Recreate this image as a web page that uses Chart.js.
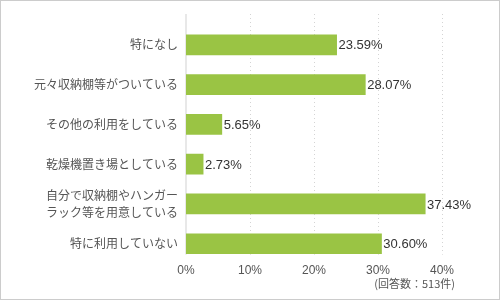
<!DOCTYPE html>
<html>
<head>
<meta charset="utf-8">
<script src="https://cdn.jsdelivr.net/npm/chart.js@4"></script>
<style>
html,body{margin:0;padding:0;background:#fff;}
#wrap{width:500px;height:300px;position:relative;}
</style>
</head>
<body>
<div id="wrap"><canvas id="c" width="500" height="300"></canvas></div>
<script>
const categories = [
  "特になし",
  "元々収納棚等がついている",
  "その他の利用をしている",
  "乾燥機置き場としている",
  ["自分で収納棚やハンガー", "ラック等を用意している"],
  "特に利用していない"
];
const values = [23.59, 28.07, 5.65, 2.73, 37.43, 30.60];
const valueLabels = ["23.59%", "28.07%", "5.65%", "2.73%", "37.43%", "30.60%"];
const xTicks = [0, 10, 20, 30, 40];
const noteText = "(回答数：513件)";

const JP = '"Noto Sans CJK JP", "Noto Sans", sans-serif';
const LAT = '"Liberation Sans", Arial, sans-serif';

const decorPlugin = {
  id: 'decor',
  beforeDatasetsDraw(chart) {
    const ctx = chart.ctx;
    const xs = chart.scales.x;
    const a = chart.chartArea;
    const top = a.top - 11, bottom = a.bottom - 9;
    ctx.save();
    xTicks.forEach(v => {
      const x = Math.round(xs.getPixelForValue(v));
      if (v === 0) {
        ctx.strokeStyle = '#e8e8e8';
        ctx.lineWidth = 2;
        ctx.setLineDash([]);
        ctx.beginPath(); ctx.moveTo(x, top); ctx.lineTo(x, bottom); ctx.stroke();
      } else {
        ctx.strokeStyle = '#d4d4d4';
        ctx.lineWidth = 1;
        ctx.setLineDash([1, 3]);
        ctx.beginPath(); ctx.moveTo(x + 0.5, top); ctx.lineTo(x + 0.5, bottom); ctx.stroke();
      }
    });
    ctx.restore();
  },
  afterDatasetsDraw(chart) {
    const ctx = chart.ctx;
    const meta = chart.getDatasetMeta(0);
    ctx.save();
    ctx.font = '13px ' + LAT;
    ctx.fillStyle = '#333';
    ctx.textAlign = 'left';
    ctx.textBaseline = 'middle';
    meta.data.forEach((bar, i) => {
      ctx.fillText(valueLabels[i], bar.x + 1.5, bar.y + 1);
    });
    // note
    ctx.font = '11px ' + JP;
    ctx.fillStyle = '#555';
    ctx.textAlign = 'right';
    ctx.fillText(noteText, 455, 284);
    // outer border
    ctx.strokeStyle = '#cccccc';
    ctx.lineWidth = 1;
    ctx.strokeRect(0.5, 0.5, 499, 299);
    ctx.restore();
  }
};

new Chart(document.getElementById('c'), {
  type: 'bar',
  data: {
    labels: categories,
    datasets: [{
      data: values,
      backgroundColor: '#9ac444',
      borderWidth: 0,
      barPercentage: 0.52,
      categoryPercentage: 1.0
    }]
  },
  options: {
    indexAxis: 'y',
    responsive: false,
    animation: false,
    devicePixelRatio: 1,
    layout: { padding: { top: 25, right: 58, bottom: 22, left: 0 } },
    plugins: { legend: { display: false }, tooltip: { enabled: false } },
    scales: {
      x: {
        min: 0, max: 40,
        grid: { display: false, drawTicks: false },
        border: { display: false },
        afterBuildTicks: s => { s.ticks = xTicks.map(v => ({ value: v })); },
        ticks: {
          padding: 0,
          color: '#555',
          font: { family: LAT, size: 12 },
          callback: v => v + '%'
        }
      },
      y: {
        grid: { display: false, drawTicks: false },
        border: { display: false },
        afterFit: s => { s.width = 186; },
        ticks: {
          padding: 8,
          color: '#555',
          font: { family: JP, size: 12, lineHeight: 1.4 }
        }
      }
    }
  },
  plugins: [decorPlugin]
});
</script>
</body>
</html>
